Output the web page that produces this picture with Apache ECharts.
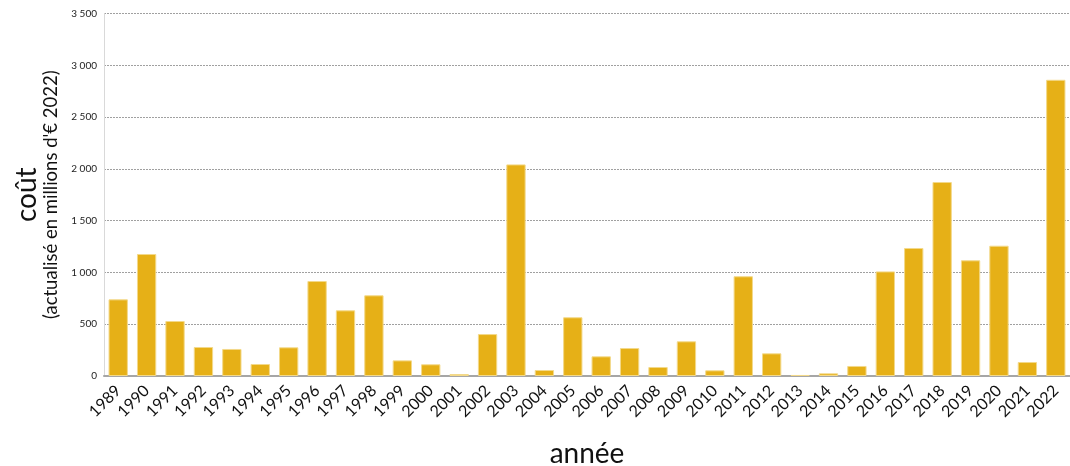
<!DOCTYPE html>
<html>
<head>
<meta charset="utf-8">
<script src="https://cdn.jsdelivr.net/npm/echarts@6/dist/echarts.min.js"></script>
<style>
  html, body { margin: 0; padding: 0; background: #fff; }
  #chart { width: 1070px; height: 466px; }
</style>
</head>
<body>
<div id="chart"></div>
<script>
// Années et coûts annuels (millions d'€ 2022)
const years = ['1989','1990','1991','1992','1993','1994','1995','1996','1997','1998','1999','2000',
  '2001','2002','2003','2004','2005','2006','2007','2008','2009','2010','2011','2012','2013','2014',
  '2015','2016','2017','2018','2019','2020','2021','2022'];
const costs = [740, 1178, 531, 280, 261, 116, 277, 917, 634, 779, 151, 113,
  19, 405, 2043, 58, 567, 190, 270, 87, 335, 55, 963, 219, 10, 26,
  97, 1010, 1236, 1873, 1117, 1258, 135, 2860];
const yTicks = [0, 500, 1000, 1500, 2000, 2500, 3000, 3500];

const FONT = 'Lato';
const chart = echarts.init(document.getElementById('chart'), null, { renderer: 'canvas' });

function spaced(v) {
  return String(v).replace(/\B(?=(\d{3})+(?!\d))/g, ' ');
}

chart.setOption({
  animation: false,
  backgroundColor: '#ffffff',
  grid: { left: 104, right: 0, top: 13.5, bottom: 90, containLabel: false, outerBoundsMode: 'none' },
  xAxis: {
    type: 'category',
    data: years,
    axisLine: { lineStyle: { color: '#a6a6a6', width: 2 } },
    axisTick: { show: false },
    axisLabel: { interval: 0, rotate: 45, fontSize: 16, color: '#111', fontFamily: FONT, margin: 12 },
    name: 'année',
    nameLocation: 'middle',
    nameGap: 64,
    nameTextStyle: { fontSize: 28, color: '#111', fontFamily: FONT }
  },
  yAxis: {
    type: 'value',
    min: yTicks[0],
    max: yTicks[yTicks.length - 1],
    interval: 500,
    axisLine: { show: true, lineStyle: { color: '#d9d9d9', width: 1 } },
    axisTick: { show: false },
    splitLine: { lineStyle: { color: '#a0a0a0', type: [2, 1], width: 1 } },
    axisLabel: { fontSize: 10, color: '#222', fontFamily: FONT, margin: 7, formatter: spaced },
    name: '{a|coût}\n{b|(actualisé en millions d\'€ 2022)}',
    nameLocation: 'middle',
    nameRotate: 90,
    nameGap: 43,
    nameTextStyle: {
      fontFamily: FONT,
      color: '#111',
      align: 'center',
      rich: {
        a: { fontSize: 28, fontFamily: FONT, color: '#111', lineHeight: 28 },
        b: { fontSize: 18.5, fontFamily: FONT, color: '#111', lineHeight: 20 }
      }
    }
  },
  series: [{
    type: 'bar',
    data: costs,
    barCategoryGap: '32%',
    itemStyle: { color: '#e6b017', borderColor: '#f3d98a', borderWidth: 1 }
  }]
});
</script>
</body>
</html>
